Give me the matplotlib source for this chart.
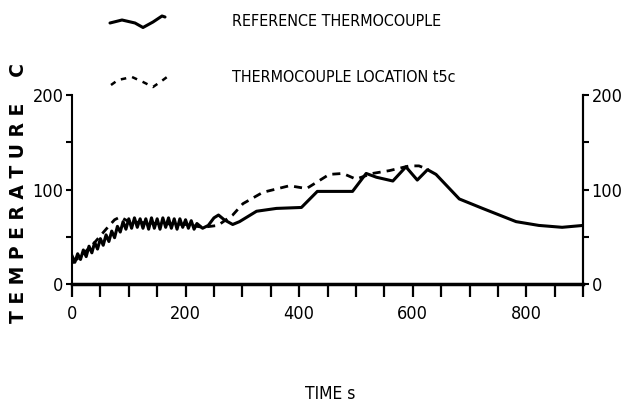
import matplotlib.pyplot as plt
from matplotlib.ticker import MultipleLocator, FixedLocator

# reference thermocouple (solid)
time_ref = [0, 5, 10, 15, 20, 25, 30, 35, 40, 45, 50, 55, 60, 65, 70, 75, 80, 85,
            90, 95, 100, 105, 110, 115, 120, 125, 130, 135, 140, 145, 150, 155, 160,
            165, 170, 175, 180, 185, 190, 195, 200, 205, 210, 215, 220, 230, 240,
            250, 258, 268, 283, 295, 325, 360, 404, 432, 494, 518, 536, 565, 588,
            608, 626, 641, 682, 723, 782, 822, 863, 900]
temp_ref = [30, 23, 32, 26, 36, 29, 40, 33, 44, 37, 48, 41, 52, 45, 56, 49, 61, 55,
            66, 58, 69, 59, 70, 60, 69, 59, 69, 58, 70, 59, 69, 58, 70,
            60, 70, 59, 69, 58, 69, 60, 68, 59, 67, 58, 64, 59, 62,
            70, 73, 68, 63, 66, 77, 80, 81, 98, 98, 117, 113, 109, 124,
            110, 121, 116, 90, 80, 66, 62, 60, 62]

# thermocouple location t5c (dashed)
time_loc = [0, 20, 40, 60, 75, 85, 100, 150, 200, 230, 257, 283, 301, 336, 383,
            413, 453, 477, 500, 529, 559, 594, 611, 628]
temp_loc = [22, 32, 44, 58, 68, 71, 66, 64, 63, 60, 62, 73, 85, 97, 104,
            101, 116, 117, 111, 117, 120, 125, 125, 121]

# legend glyph shapes (pixel space of the figure)
glyph_solid_x = [110, 122, 135, 143, 153, 162, 165]
glyph_solid_y = [23, 20, 23, 27.5, 22, 16, 17]
glyph_dash_x = [111, 118, 132, 143, 153, 163, 171]
glyph_dash_y = [85, 80, 77, 82, 87, 80, 74]

plt.rcParams['font.family'] = ['DejaVu Sans']
plt.rcParams['font.stretch'] = 'condensed'

fig = plt.figure(figsize=(6.27, 4.09), dpi=100)
ax = fig.add_axes([0.1148, 0.3056, 0.8152, 0.4621])

ax.plot(time_ref, temp_ref, color='black', lw=2.2, solid_joinstyle='round')
ax.plot(time_loc, temp_loc, color='black', lw=2.0, ls=(0, (2.9, 2.2)))

ax.set_xlim(0, 900)
ax.set_ylim(0, 200)
ax.spines['top'].set_visible(False)
ax.spines['left'].set_linewidth(1.5)
ax.spines['right'].set_linewidth(1.5)
ax.spines['bottom'].set_linewidth(2.5)

ax.xaxis.set_major_locator(FixedLocator([0, 200, 400, 600, 800]))
ax.xaxis.set_minor_locator(MultipleLocator(50))
ax.tick_params(axis='x', which='both', direction='out', length=9, width=1.6,
               labelsize=13, pad=6)
ax.yaxis.set_major_locator(FixedLocator([0, 100, 200]))
ax.yaxis.set_minor_locator(MultipleLocator(50))
ax.tick_params(axis='y', which='both', direction='out', length=4, width=1.5,
               labelsize=13, pad=2)

ax2 = ax.twinx()
ax2.set_ylim(0, 200)
for s in ['top', 'left', 'bottom']:
    ax2.spines[s].set_visible(False)
ax2.spines['right'].set_linewidth(1.5)
ax2.yaxis.set_major_locator(FixedLocator([0, 100, 200]))
ax2.yaxis.set_minor_locator(MultipleLocator(50))
ax2.tick_params(axis='y', which='both', direction='out', length=4, width=1.5,
                labelsize=13, pad=2)

fig.text(0.030, 0.528, 'T E M P E R A T U R E    C', rotation=90,
         ha='center', va='center', fontsize=13.5, fontweight='bold',
         fontstretch='normal')
fig.text(0.526, 0.036, 'TIME s', ha='center', va='center', fontsize=12.5)

# legend drawn on an overlay in pixel space
ov = fig.add_axes([0, 0, 1, 1], facecolor='none')
ov.set_xlim(0, 627)
ov.set_ylim(409, 0)
ov.axis('off')
ov.plot(glyph_solid_x, glyph_solid_y, color='black', lw=2.2,
        solid_capstyle='round')
ov.plot(glyph_dash_x, glyph_dash_y, color='black', lw=1.8, ls=(0, (2.2, 2.4)))
ov.text(232, 21, 'REFERENCE THERMOCOUPLE', ha='left', va='center', fontsize=11.5)
ov.text(232, 77, 'THERMOCOUPLE LOCATION t5c', ha='left', va='center', fontsize=11.5)

fig.savefig('out.png', dpi=100)
